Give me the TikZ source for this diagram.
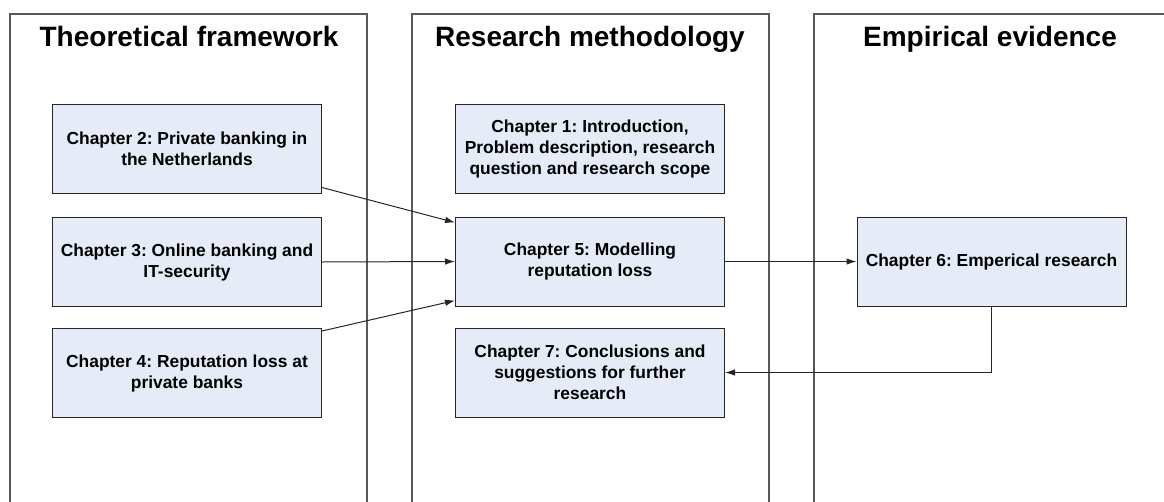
\documentclass[tikz,border=0pt]{standalone}
\usepackage{fontspec}
\setmainfont{Liberation Sans}
\usetikzlibrary{arrows.meta}
\definecolor{boxblue}{RGB}{230,236,247}
\frenchspacing

\begin{document}
\begin{tikzpicture}[x=1pt,y=-1pt,
    chapbox/.style={draw=black!85, line width=1pt, fill=boxblue,
      minimum width=269pt, minimum height=89pt, align=center, inner sep=2pt,
      font=\bfseries\fontsize{17.4}{21}\selectfont},
    colhead/.style={anchor=base, font=\bfseries\fontsize{28}{32}\selectfont},
    panel/.style={draw=black!65, line width=1.5pt},
    conn/.style={-{Latex[length=10pt,width=6.5pt]}, line width=1pt, black!85}]
  \useasboundingbox (0,0) rectangle (1164,501);
  \clip (0,0) rectangle (1164,501);

  % the three columns
  \draw[panel] (10,510) -- (10,14) -- (367,14) -- (367,510);
  \draw[panel] (412,510) -- (412,14) -- (769,14) -- (769,510);
  \draw[panel] (814,510) -- (814,14) -- (1170,14);

  \node[colhead] (theory) at (189,46) {Theoretical framework};
  \node[colhead] (method) at (590,46) {Research methodology};
  \node[colhead] (empiric) at (990,46) {Empirical evidence};

  % chapters
  \node[chapbox] (ch2) at (187,148.5) {Chapter 2: Private banking in\\the Netherlands};
  \node[chapbox] (ch3) at (187,262) {Chapter 3: Online banking and\\IT-security};
  \node[chapbox] (ch4) at (187,373) {Chapter 4: Reputation loss at\\private banks};

  \node[chapbox] (ch1) at (590,148.5) {Chapter 1: Introduction,\\Problem description, research\\question and research scope};
  \node[chapbox] (ch5) at (590,261.5) {Chapter 5: Modelling\\reputation loss};
  \node[chapbox] (ch7) at (590,372.5) {Chapter 7: Conclusions and\\suggestions for further\\research};

  \node[chapbox] (ch6) at (991.5,261.5) {Chapter 6: Emperical research};

  % links
  \draw[conn] ([yshift=6pt]ch2.south east) -- ([yshift=-6pt]ch5.north west);
  \draw[conn] (ch3.east) -- (ch5.west);
  \draw[conn] ([yshift=-3pt]ch4.north east) -- ([yshift=6pt]ch5.south west);
  \draw[conn] (ch5.east) -- (ch6.west);
  \draw[conn] (ch6.south) |- (ch7.east);
\end{tikzpicture}
\end{document}
